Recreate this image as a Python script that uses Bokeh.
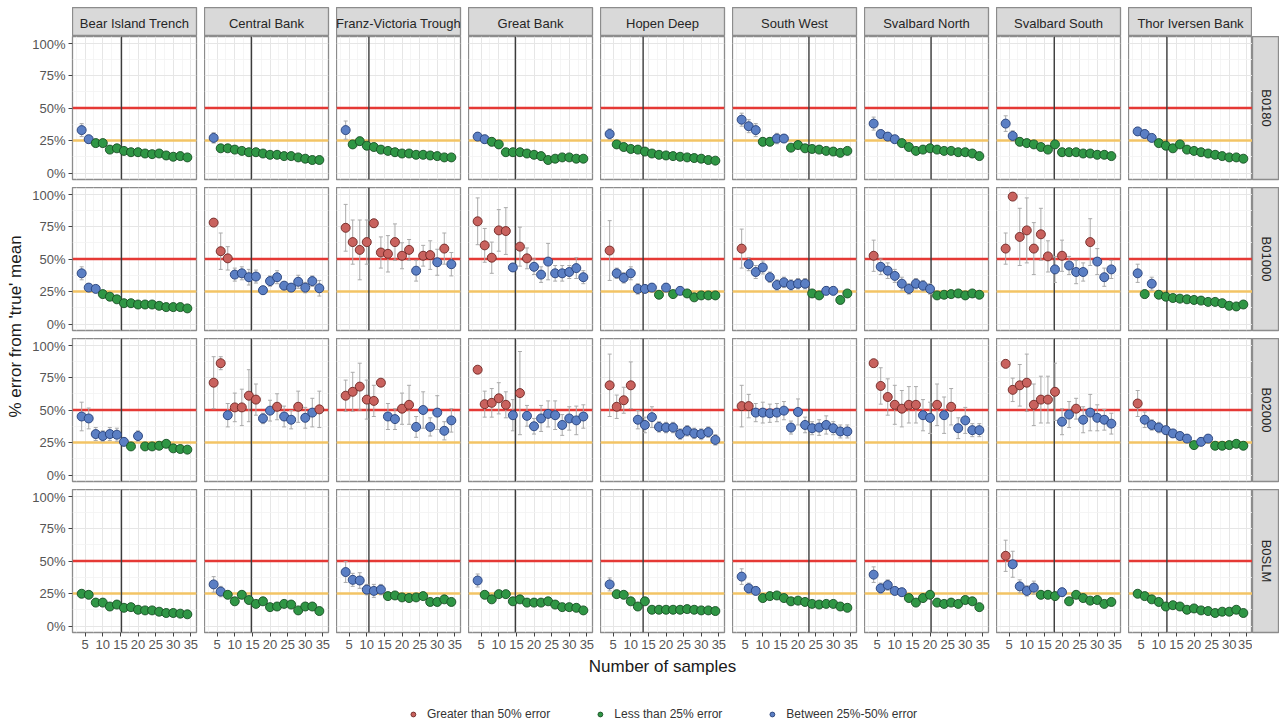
import math
from bokeh.plotting import figure
from bokeh.models import (Range1d, FixedTicker, Span, Whisker, TeeHead, ColumnDataSource,
                          Spacer, Legend, LegendItem, PrintfTickFormatter)
from bokeh.layouts import row, column
from bokeh.embed import file_html
from bokeh.resources import INLINE
from bokeh.core.properties import value

# ---------------- data ----------------
regions = ["Bear Island Trench", "Central Bank", "Franz-Victoria Trough", "Great Bank",
           "Hopen Deep", "South West", "Svalbard North", "Svalbard South", "Thor Iversen Bank"]
groups = ["B0180", "B01000", "B02000", "B0SLM"]
n_samples = [4, 6, 8, 10, 12, 14, 16, 18, 20, 22, 24, 26, 28, 30, 32, 34]
current_n = [15.3, 14.7, 10.6, 14.7, 13.5, 23.1, 20.3, 17.8, 12.3]
x_ticks = [5, 10, 15, 20, 25, 30, 35]
y_ticks = [0, 25, 50, 75, 100]
threshold_high = 50
threshold_low = 25
legend_labels = ["Greater than 50% error", "Less than 25% error", "Between 25%-50% error"]

B0180_mean = [
    [33, 26, 23, 23, 18, 19, 17, 16, 16, 15, 14.5, 15, 13.5, 12.5, 13, 12],
    [27, 19, 19, 18, 17, 16, 16, 15, 14, 14, 13, 13, 12, 11, 10, 10],
    [33, 22, 24.5, 21, 20, 18, 17, 16, 15, 15, 14, 14, 13.5, 13, 12, 12],
    [28, 26, 24, 22, 16, 16, 16, 15, 14, 13, 10, 11, 12, 12, 11, 11],
    [30, 22, 20, 18.5, 18, 16.5, 15, 14, 13.5, 13, 12.5, 12, 11.5, 11, 10, 9.5],
    [41, 36, 33, 24, 24, 26.5, 26.5, 19.5, 21.5, 19, 18.5, 18, 17, 16.5, 15.5, 17],
    [38, 30, 28, 26, 23, 20, 17, 18, 19, 18, 17, 17, 16, 16, 15, 13],
    [38, 28.5, 24, 23, 22, 20, 18, 22, 16, 16, 16, 15, 15, 14, 14, 13],
    [32, 30, 27, 23, 21, 19, 22, 18, 17, 16, 15, 14, 13, 12, 12, 11],
]
B0180_err = [
    [5, 3, 2, 2, 2, 2, 1.5, 1.5, 1, 1, 1, 1, 1, 1, 1, 1],
    [4, 2, 1.5, 1.5, 1.5, 1, 1, 1, 1, 1, 1, 1, 1, 1, 1, 1],
    [7, 2, 3, 2, 1.5, 1.5, 1, 1, 1, 1, 1, 1, 1, 1, 1, 1],
    [3, 3, 3, 3, 1.5, 1.5, 1, 1, 1, 1, 1, 1, 1, 1, 1, 1],
    [4, 2, 1.5, 1.5, 1, 1, 1, 1, 1, 1, 1, 1, 1, 1, 1, 1],
    [5, 5, 5, 3, 3, 4, 3, 2, 2, 2, 1.5, 1.5, 1.5, 1.5, 1, 1.5],
    [5, 3, 3, 2, 2, 2, 1.5, 1.5, 1.5, 1.5, 1, 1, 1, 1, 1, 1],
    [6, 4, 3, 2, 2, 2, 2, 3, 1.5, 1.5, 1, 1, 1, 1, 1, 1],
    [3, 3, 2, 2, 2, 2, 2, 1.5, 1, 1, 1, 1, 1, 1, 1, 1],
]
B01000_mean = [
    [39, 28, 27, 23, 21, 19, 16, 16, 15, 15, 15, 14, 13, 13, 13, 12],
    [78, 56, 50.5, 38, 39, 36, 36.5, 26, 33, 36, 29.5, 28, 32.5, 28, 33, 27.5],
    [74, 63, 57, 63, 77.5, 55, 54, 63, 52.5, 57, 41, 52.5, 53, 47.5, 58, 46],
    [79, 60.5, 51, 72, 71.5, 43.5, 59.5, 50.5, 44, 38, 48, 39, 39, 40, 43, 36],
    [56.5, 39, 35.5, 39, 27, 27, 28, 22.5, 28, 23, 25.5, 23.5, 20.5, 22, 22, 22],
    [58, 46, 40, 43.5, 36, 30, 32, 30, 31, 31, 23.5, 22, 25.5, 25.5, 18.5, 23.5],
    [52.5, 44, 41, 37, 31, 27, 31, 29.5, 27, 22, 22.5, 23, 23.5, 22, 23.5, 22.5],
    [58, 98, 67, 72, 58, 69, 52, 42, 52.5, 45, 40, 40, 63, 48, 36, 42],
    [39, 23, 31, 22.5, 21, 20, 19.5, 19, 18.5, 18, 17, 17, 16, 14, 13.5, 15],
]
B01000_err = [
    [5, 2, 2, 2, 1.5, 1.5, 1, 1, 1, 1, 1, 1, 1, 1, 1, 1],
    [2, 14, 9, 5, 5, 6, 5, 3, 4, 5, 3, 3, 5, 4, 4, 6],
    [18, 17, 23, 17, 3, 12, 14, 14, 10, 8, 8, 8, 11, 10, 12, 9],
    [18, 13, 12, 16, 18, 3, 15, 8, 6, 6, 14, 6, 6, 5, 8, 5],
    [23, 4, 4, 5, 4, 3, 3, 2, 3, 2, 3, 2, 2, 2, 2, 2],
    [15, 5, 5, 5, 4, 4, 4, 4, 4, 4, 2, 2, 3, 3, 2, 2],
    [12, 6, 6, 5, 5, 4, 4, 4, 4, 2, 2, 2, 2, 2, 2, 2],
    [12, 2, 22, 25, 20, 20, 12, 10, 12, 7, 9, 7, 18, 10, 7, 7],
    [7, 3, 5, 2, 2, 2, 2, 2, 2, 2, 2, 2, 2, 2, 2, 2],
]
B02000_mean = [
    [45, 43.5, 31.5, 30, 31.5, 31, 25.5, 22, 30, 22, 22, 22.5, 24, 20.5, 20, 19.5],
    [71, 86, 46, 52, 52, 61, 58, 43.5, 49.5, 52.5, 45, 42.5, 52.5, 44, 48, 50.5],
    [61, 64, 68, 58, 57, 71, 45, 43, 51, 54, 37, 50, 37, 48, 34, 42],
    [81, 54.5, 55.5, 59, 54, 46, 63, 45.5, 37.5, 43.5, 47, 46, 38.5, 43.5, 42, 45],
    [69, 52.5, 57.5, 69, 42.5, 38.5, 44.5, 37, 36.5, 36.5, 31.5, 34, 32, 31.5, 33, 27],
    [53, 53, 48, 48, 47.5, 48, 49.5, 36.5, 48.5, 38.5, 36, 36.5, 38.5, 36, 33.5, 33.5],
    [86, 68.5, 60, 54, 51, 54, 54, 46, 44, 54, 46, 52.5, 36, 42, 34.5, 34.5],
    [85.5, 65.5, 69, 71, 54, 58, 58, 64, 41, 46.5, 51, 42.5, 48, 44, 42.5, 39.5],
    [55, 42.5, 38.5, 36.5, 34.5, 32, 30, 28, 23, 25.5, 28, 22.5, 22.5, 23, 24, 22.5],
]
B02000_err = [
    [11, 8, 5, 4, 5, 5, 3, 2, 4, 2, 2, 2, 2, 2, 2, 2],
    [20, 5, 9, 11, 14, 20, 12, 4, 8, 10, 8, 7, 12, 8, 11, 14],
    [12, 15, 18, 15, 12, 2, 10, 8, 12, 15, 8, 14, 7, 13, 7, 9],
    [2, 10, 11, 12, 10, 12, 32, 8, 6, 10, 10, 11, 8, 9, 11, 9],
    [24, 9, 10, 18, 7, 6, 8, 4, 4, 4, 4, 4, 4, 4, 4, 4],
    [16, 9, 7, 8, 7, 7, 7, 5, 10, 6, 5, 6, 7, 5, 5, 5],
    [2, 14, 14, 15, 14, 14, 14, 12, 12, 16, 14, 14, 8, 10, 5, 5],
    [2, 9, 16, 22, 16, 18, 18, 22, 10, 10, 8, 10, 14, 10, 8, 8],
    [10, 6, 4, 4, 3, 3, 3, 3, 2, 3, 3, 2, 2, 2, 2, 2],
]
B0SLM_mean = [
    [24.8, 24, 18, 18, 15, 16.5, 14, 14.5, 12.5, 12, 12, 11, 10, 10, 9.5, 9],
    [32, 26.5, 24, 19, 24, 20, 17, 19, 14.5, 15, 17, 16.5, 12, 15, 15, 11.5],
    [41.5, 35.5, 35, 28, 27, 28, 23, 23.5, 22, 21.5, 22, 23, 18.5, 18.5, 20.5, 18.5],
    [35, 24, 20.5, 24.5, 24.5, 19, 20.5, 18, 18, 18, 19, 16.5, 14.5, 14.5, 14, 12],
    [32, 24.5, 24, 19, 15, 19, 12.5, 12.5, 12.5, 12.5, 12.5, 13, 12.5, 12, 12, 11.5],
    [38, 29, 27, 21.5, 23, 23.5, 21.5, 19, 19.5, 18.5, 17, 16.5, 17, 17, 15, 14],
    [39.5, 29, 31.5, 27, 26, 21.5, 18, 21.5, 24, 18, 17, 18, 17, 20, 19, 14.5],
    [54, 47.5, 30.5, 27, 29.5, 24, 24, 23, 26, 19, 24, 21.5, 19.5, 20, 17, 18.5],
    [24.8, 23, 20.5, 18.5, 15, 16, 15, 12.5, 13.5, 12, 11.5, 10, 11, 11, 12.5, 10],
]
B0SLM_err = [
    [2, 2, 1.5, 1.5, 1, 1, 1, 1, 1, 1, 1, 1, 1, 1, 1, 1],
    [6, 4, 2, 2, 2, 2, 1.5, 1.5, 1.5, 1.5, 1.5, 1, 1, 1, 1, 1],
    [8, 5, 6, 4, 5, 4, 2, 2, 2, 2, 2, 2, 1.5, 1.5, 1.5, 1.5],
    [5, 2, 2, 2, 2, 1.5, 1.5, 1.5, 1.5, 1.5, 1.5, 1, 1, 1, 1, 1],
    [5, 2, 2, 1.5, 1.5, 1.5, 1, 1, 1, 1, 1, 1, 1, 1, 1, 1],
    [6, 4, 3, 2, 2, 2, 2, 1.5, 1.5, 1.5, 1.5, 1, 1, 1, 1, 1],
    [6, 4, 4, 3, 3, 2, 2, 2, 2, 1.5, 1.5, 1.5, 1.5, 1.5, 1, 1],
    [12, 10, 5, 4, 5, 3, 3, 3, 3, 2, 2, 2, 2, 2, 2, 2],
    [2, 2, 2, 1.5, 1.5, 1, 1, 1, 1, 1, 1, 1, 1, 1, 1, 1],
]
means = [B0180_mean, B01000_mean, B02000_mean, B0SLM_mean]
errs = [B0180_err, B01000_err, B02000_err, B0SLM_err]

# ---------------- style ----------------
FONT = "Liberation Sans"
FILL = {"high": "#C9625E", "low": "#2F9645", "mid": "#5B7FC4"}
EDGE = {"high": "#6E2724", "low": "#174F24", "mid": "#263F78"}
BORDER = "#8C8C8C"
STRIP_FILL = "#D9D9D9"
FW, FH = 124, 143
YT_W, YAX_W = 28, 44
TOP_PAD, STRIP_H, RSTRIP_W = 7, 29, 27


def category(v):
    if v > threshold_high:
        return "high"
    if v < threshold_low:
        return "low"
    return "mid"


def base_fig(width, height, **kw):
    p = figure(width=width, height=height, toolbar_location=None, output_backend="svg",
               min_border=0, **kw)
    p.border_fill_color = "white"
    return p


def make_panel(r, c):
    left, bottom, last = c == 0, r == 3, c == 8
    mbl = YAX_W if left else 0
    mbr = 0 if last else 8
    mbb = 24 if bottom else 8
    p = base_fig(FW + mbl + mbr, FH + mbb,
                 x_range=Range1d(1.4, 36.6), y_range=Range1d(-5, 105),
                 x_axis_location="below" if bottom else None,
                 y_axis_location="left" if left else None,
                 min_border_left=mbl, min_border_right=mbr, min_border_top=0,
                 min_border_bottom=mbb)
    p.background_fill_color = "white"
    p.outline_line_color = BORDER
    p.outline_line_width = 1.3
    xt = FixedTicker(ticks=x_ticks, minor_ticks=[t - 2.5 for t in x_ticks] + [37.5])
    yt = FixedTicker(ticks=y_ticks, minor_ticks=[12.5, 37.5, 62.5, 87.5])
    p.xgrid.ticker = xt
    p.ygrid.ticker = yt
    for g in (p.xgrid[0], p.ygrid[0]):
        g.grid_line_color = "#E6E6E6"
        g.grid_line_width = 1
        g.minor_grid_line_color = "#F3F3F3"
        g.minor_grid_line_width = 0.8
    for ax in (p.xaxis + p.yaxis):
        ax.axis_line_color = None
        ax.major_tick_line_color = "#444444"
        ax.major_tick_out = 4
        ax.major_tick_in = 0
        ax.minor_tick_line_color = None
        ax.major_label_text_font = FONT
        ax.major_label_text_font_size = "13px"
        ax.major_label_text_color = "#555555"
        ax.major_label_standoff = 3
    if bottom:
        p.xaxis.ticker = xt
    if left:
        p.yaxis.ticker = yt
        p.yaxis.formatter = PrintfTickFormatter(format="%d%%")

    p.add_layout(Span(location=threshold_high, dimension="width", line_color="#E53935",
                      line_width=2.4, level="underlay"))
    p.add_layout(Span(location=threshold_low, dimension="width", line_color="#F3C465",
                      line_width=2.4, level="underlay"))
    p.add_layout(Span(location=current_n[c], dimension="height", line_color="#3C3C3C",
                      line_width=1.4, level="underlay"))

    m = means[r][c]
    e = errs[r][c]
    cats = [category(v) for v in m]
    src = ColumnDataSource(dict(
        x=n_samples, y=m,
        lo=[v - d for v, d in zip(m, e)], hi=[v + d for v, d in zip(m, e)],
        fill=[FILL[k] for k in cats], edge=[EDGE[k] for k in cats]))
    w = Whisker(base="x", lower="lo", upper="hi", source=src, dimension="height",
                line_color="#ABABAB", line_width=1,
                upper_head=TeeHead(size=4, line_color="#ABABAB", line_width=1),
                lower_head=TeeHead(size=4, line_color="#ABABAB", line_width=1))
    p.add_layout(w)
    p.scatter("x", "y", source=src, size=9, fill_color="fill", line_color="edge",
              line_width=0.9)
    return p


def make_top_strip(c):
    last = c == 8
    mbr = 0 if last else 8
    p = base_fig(FW + mbr, STRIP_H, x_range=Range1d(0, 1), y_range=Range1d(0, 1),
                 x_axis_location=None, y_axis_location=None, min_border_right=mbr)
    p.background_fill_color = STRIP_FILL
    p.outline_line_color = BORDER
    p.outline_line_width = 1.3
    p.grid.visible = False
    p.text(x=[0.5], y=[0.45], text=[regions[c]], text_align="center", text_baseline="middle",
           text_font=value(FONT), text_font_size="13px", text_color="#262626")
    return p


def make_right_strip(r):
    mbb = 24 if r == 3 else 8
    p = base_fig(RSTRIP_W, FH + mbb, x_range=Range1d(0, 1), y_range=Range1d(0, 1),
                 x_axis_location=None, y_axis_location=None, min_border_bottom=mbb)
    p.background_fill_color = STRIP_FILL
    p.outline_line_color = BORDER
    p.outline_line_width = 1.3
    p.grid.visible = False
    p.text(x=[0.5], y=[0.5], text=[groups[r]], text_align="center", text_baseline="middle",
           angle=-math.pi / 2, text_font=value(FONT), text_font_size="13px",
           text_color="#262626")
    return p


top = row([Spacer(width=YT_W + YAX_W, height=STRIP_H)] +
          [make_top_strip(c) for c in range(9)] +
          [Spacer(width=RSTRIP_W, height=STRIP_H)])

panel_rows = [row([make_panel(r, c) for c in range(9)] + [make_right_strip(r)])
              for r in range(4)]
block_h = 3 * (FH + 8) + FH + 24

ytitle = base_fig(YT_W, block_h, x_range=Range1d(0, YT_W), y_range=Range1d(0, block_h),
                  x_axis_location=None, y_axis_location=None)
ytitle.outline_line_color = None
ytitle.grid.visible = False
ytitle.background_fill_color = "white"
ytitle.text(x=[15], y=[block_h - 290], text=["% error from 'true' mean"], angle=math.pi / 2,
            text_align="center", text_baseline="middle", text_font=value(FONT),
            text_font_size="17px", text_color="#1A1A1A")

middle = row(ytitle, column(panel_rows))

area_w = 9 * FW + 8 * 8
xtitle = base_fig(YT_W + YAX_W + area_w, 24, x_range=Range1d(0, 1), y_range=Range1d(0, 24),
                  x_axis_location=None, y_axis_location=None, min_border_left=YT_W + YAX_W)
xtitle.outline_line_color = None
xtitle.grid.visible = False
xtitle.text(x=[0.5], y=[14], text=["Number of samples"], text_align="center",
            text_baseline="middle", text_font=value(FONT), text_font_size="17px",
            text_color="#1A1A1A")

leg = base_fig(YT_W + YAX_W + area_w, 42, x_range=Range1d(0, 1), y_range=Range1d(0, 1),
               x_axis_location=None, y_axis_location=None, min_border_left=YT_W + YAX_W)
leg.outline_line_color = None
leg.grid.visible = False
items = []
nan = float("nan")
for lab, key in zip(legend_labels, ["high", "low", "mid"]):
    rr = leg.scatter(x=[nan], y=[nan], size=7, fill_color=FILL[key], line_color=EDGE[key],
                     line_width=0.9)
    items.append(LegendItem(label=lab, renderers=[rr]))
legend = Legend(items=items, orientation="horizontal", location="bottom_center",
                label_text_font=FONT, label_text_font_size="12px", label_text_color="#333333",
                glyph_width=12, glyph_height=12, spacing=44, label_standoff=8,
                padding=1, margin=0, border_line_alpha=0, background_fill_alpha=0)
leg.add_layout(legend, "center")

layout = column(Spacer(width=10, height=TOP_PAD), top, middle, xtitle, leg)

html = file_html(layout, INLINE)
with open("out.html", "w") as f:
    f.write(html)
